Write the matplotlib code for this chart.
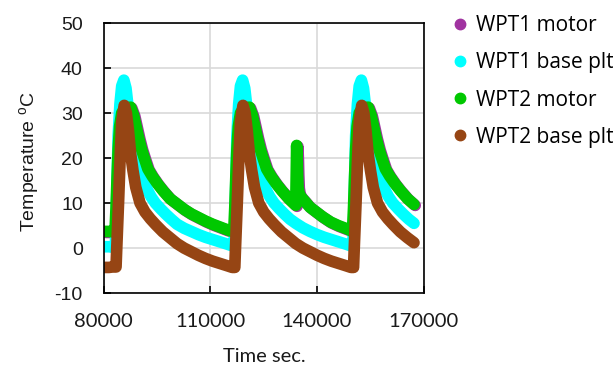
import numpy as np
import matplotlib
matplotlib.use("Agg")
import matplotlib.pyplot as plt
import matplotlib.transforms as mtransforms
from matplotlib.lines import Line2D

# series (time in s, temperature in deg C)
wpt2_base_t = [80300, 81500, 82500, 83500, 83700, 84200, 84650, 85100, 85800, 86400, 87000, 87600,
               88250, 89050, 90250, 91650, 93150, 94650, 96650, 98650, 100650, 102650, 104650,
               106650, 108650, 110650, 112650, 114650, 116200, 116900,
               117100, 117600, 118050, 118500, 119200, 119800, 120400, 121000, 121650, 122450,
               123650, 125050, 126550, 128050, 130050, 132050, 134050, 136050, 138050, 140050,
               142050, 144050, 146050, 148050, 149600, 150300,
               150500, 151000, 151450, 151900, 152600, 153200, 153800, 154400, 155050, 155850,
               157050, 158450, 159950, 161450, 163450, 165450, 167300]
wpt2_base_T = [-4.3, -4.3, -4.2, -4.2, 0, 10, 20, 28, 31.7, 30, 26, 21,
               17.3, 13.5, 10, 8.0, 6.5, 5.2, 3.6, 2.3, 1.0, 0.0, -0.8,
               -1.6, -2.3, -2.9, -3.4, -3.9, -4.3, -4.3,
               0, 10, 20, 28, 31.7, 30, 26, 21, 17.3, 13.5,
               10, 8.0, 6.5, 5.2, 3.6, 2.3, 1.0, 0.0, -0.8, -1.6,
               -2.3, -2.9, -3.4, -3.9, -4.3, -4.3,
               0, 10, 20, 28, 31.7, 30, 26, 21, 17.3, 13.5,
               10, 8.0, 6.5, 5.2, 3.6, 2.3, 1.2]

wpt1_base_t = [80300, 81500, 82500, 83300, 83500, 83800, 84100, 84600, 85100, 85700, 86300, 86800,
               87300, 87850, 88550, 89350, 90350, 91350, 92350, 93350, 94550, 96050, 97550,
               99050, 100650, 102650, 104650, 106650, 108650, 110650, 112650, 114650, 116150, 116700,
               116900, 117200, 117500, 118000, 118500, 119100, 119700, 120200, 120700, 121250,
               121950, 122750, 123750, 124750, 125750, 126750, 127950, 129450, 130950, 132450,
               134050, 136050, 138050, 140050, 142050, 144050, 146050, 148050, 149550, 150100,
               150300, 150600, 150900, 151400, 151900, 152500, 153100, 153600, 154100, 154650,
               155350, 156150, 157150, 158150, 159150, 160150, 161350, 162850, 164350, 165850, 167300]
wpt1_base_T = [0.3, 0.3, 0.2, 0.2, 5, 15, 25, 32, 36, 37.3, 35.5, 32,
               28, 25, 22, 19.5, 17, 15, 12.9, 11.4, 10.0, 8.7, 7.5,
               6.4, 5.3, 4.4, 3.7, 3.0, 2.4, 1.9, 1.4, 0.9, 0.5, 0.4,
               5, 15, 25, 32, 36, 37.3, 35.5, 32, 28, 25,
               22, 19.5, 17, 15, 12.9, 11.4, 10.0, 8.7, 7.5, 6.4,
               5.5, 4.5, 3.7, 3.0, 2.4, 1.9, 1.4, 0.9, 0.5, 0.4,
               5, 15, 25, 32, 36, 37.3, 35.5, 32, 28, 25,
               22, 19.5, 17, 15, 12.9, 11.4, 10.0, 8.7, 7.5, 6.4, 5.5]

wpt2_motor_t = [80300, 81500, 82500, 83200, 83500, 83800, 84100, 84500, 85100, 86000, 87600,
                88450, 89150, 89850, 90650, 91450, 92450, 93650, 95150, 96650, 98650, 100650,
                102650, 104650, 106650, 108650, 110650, 112650, 114650, 116150, 116600,
                116900, 117200, 117500, 117900, 118500, 119400, 121000, 121850, 122550, 123250,
                124050, 124850, 125850, 127050, 128550, 130050, 132050, 134050,
                134300, 134450, 134550, 134700, 135000, 135700, 136700, 138000, 139500, 141500,
                143800, 146000, 148000, 149550, 150000,
                150300, 150600, 150900, 151300, 151900, 152800, 154400, 155250, 155950, 156650,
                157450, 158250, 159250, 160450, 161950, 163450, 165450, 167300]
wpt2_motor_T = [3.7, 3.7, 3.6, 3.6, 9, 16, 22, 27, 30, 31.1, 31.3,
                29.5, 27, 24.5, 22, 20, 17.6, 16.0, 14.3, 12.8, 11.0, 9.8,
                8.6, 7.6, 6.8, 6.0, 5.3, 4.7, 4.1, 3.7, 3.6,
                9, 16, 22, 27, 30, 31.1, 31.3, 29.5, 27, 24.5,
                22, 20, 17.6, 16.0, 14.3, 12.8, 11.0, 9.5,
                22.8, 20, 16.5, 13.5, 12.0, 11.2, 10.3, 9.1, 8.2, 7.0,
                5.8, 5.0, 4.4, 3.9, 3.6,
                9, 16, 22, 27, 30, 31.1, 31.3, 29.5, 27, 24.5,
                22, 20, 17.6, 16.0, 14.3, 12.8, 11.0, 9.7]

# WPT1 motor sits on top of WPT2 motor in the picture
wpt1_motor_t = list(wpt2_motor_t)
wpt1_motor_T = list(wpt2_motor_T)

labels = ['WPT1 motor', 'WPT1 base plt', 'WPT2 motor', 'WPT2 base plt']
colors = ['#A033A0', '#00FFFF', '#00C800', '#964514']

xticks = [80000, 110000, 140000, 170000]
yticks = [-10, 0, 10, 20, 30, 40, 50]

plt.rcParams['mathtext.fontset'] = 'custom'
plt.rcParams['mathtext.rm'] = 'Liberation Sans'

fig = plt.figure(figsize=(6.13, 3.71), dpi=100)
ax = fig.add_axes([0.169, 0.210, 0.522, 0.728])

lw = 8.4
off = mtransforms.offset_copy(ax.transData, fig=fig, x=1.2, y=-1.0, units='dots')
ax.plot(wpt1_motor_t, wpt1_motor_T, color=colors[0], lw=lw, solid_capstyle='round',
        solid_joinstyle='round', transform=off)
series = [(wpt1_base_t, wpt1_base_T), (wpt2_motor_t, wpt2_motor_T), (wpt2_base_t, wpt2_base_T)]
for (t, T), c in zip(series, colors[1:]):
    ax.plot(t, T, color=c, lw=lw, solid_capstyle='round', solid_joinstyle='round')

ax.set_xlim(80000, 170000)
ax.set_ylim(-10, 50)
ax.set_xticks(xticks)
ax.set_yticks(yticks)
ax.set_xticklabels([str(v) for v in xticks], family='Lato', fontsize=14.5, color='#1a1a1a')
ax.set_yticklabels([str(v) for v in yticks], family='Liberation Sans', fontsize=14, color='#1a1a1a')
ax.tick_params(direction='in', length=5, width=1.2, color='black')
ax.tick_params(axis='x', pad=14)
ax.tick_params(axis='y', pad=15)
ax.grid(True, color='#d9d9d9', lw=1.2)
ax.set_axisbelow(True)
for s in ax.spines.values():
    s.set_linewidth(1.2)
    s.set_color('black')

fig.text(30 / 613, 1 - 162 / 371, 'Temperature $^{\\mathrm{o}}$C', rotation=90,
         ha='center', va='center', family='Liberation Sans', fontsize=14, color='#1a1a1a')
fig.text(264 / 613, 1 - 356 / 371, 'Time sec.', ha='center', va='center',
         family='Lato', fontsize=14.5, color='#1a1a1a')

handles = [Line2D([], [], ls='none', marker='o', ms=7.5, color=c) for c in colors]
fig.legend(handles, labels, loc='upper left', bbox_to_anchor=(452 / 613, 1 - 15 / 371),
           frameon=False, prop={'family': 'Open Sans', 'size': 15}, handlelength=0.8,
           handletextpad=0.35, labelspacing=0.78, borderpad=0, borderaxespad=0)

fig.savefig('out.png', dpi=100)
